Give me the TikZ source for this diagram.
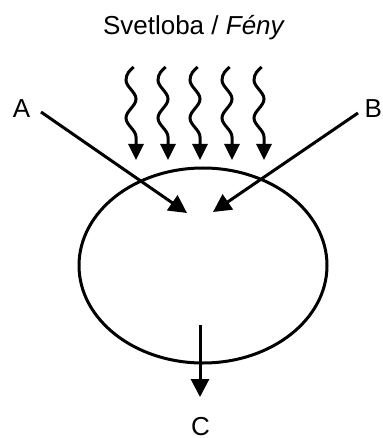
\documentclass[tikz,border=0pt]{standalone}
\usepackage{fontspec}
\setmainfont{Liberation Sans}
\usepackage{tikz}
\usetikzlibrary{arrows.meta, shapes.geometric}

\begin{document}
\begin{tikzpicture}[x=0.5pt, y=-0.5pt, >={Triangle[length=9pt, width=9pt]},
    font=\fontsize{13}{15}\selectfont, line width=1.5pt]
  \useasboundingbox (0,0) rectangle (382,438);
  \tikzset{lbl/.style={anchor=base, inner sep=0pt},
    ray/.style={->, >={Triangle[length=8pt, width=7.5pt]}, line width=1.5pt}}

  % Light
  \node[lbl] (light) at (194,35) {Svetloba / \textit{Fény}};
  \foreach \i in {0,...,4}{
    \pgfmathsetmacro\xc{131+32*\i}
    \coordinate (ray\i) at (\xc+5,160);
    \draw[ray] (\xc+2.7,67) .. controls (\xc-1,70) and (\xc-5,74) .. (\xc-5,80)
      .. controls (\xc-5,87) and (\xc+5,92) .. (\xc+5,99)
      .. controls (\xc+5,106) and (\xc-5,111) .. (\xc-5,118)
      .. controls (\xc-5,125) and (\xc+5,130) .. (\xc+5,137) -- (ray\i);
  }

  % Cell
  \node[draw, ellipse, minimum width=124pt, minimum height=97.5pt, inner sep=0pt]
    (cell) at (203,265.5) {};

  % Inputs and output
  \node[lbl] (A) at (21.5,118) {A};
  \node[lbl, anchor=base west] (B) at (363,118) {B};
  \node[lbl] (C) at (200.5,435) {C};
  \coordinate (a0) at (41,112);
  \coordinate (a1) at (187,213);
  \coordinate (b0) at (358,113);
  \coordinate (b1) at (213,212);
  \coordinate (c0) at (200,325);
  \coordinate (c1) at (200,397);
  \draw[->] (a0) -- (a1);
  \draw[->] (b0) -- (b1);
  \draw[->] (c0) -- (c1);
\end{tikzpicture}
\end{document}
